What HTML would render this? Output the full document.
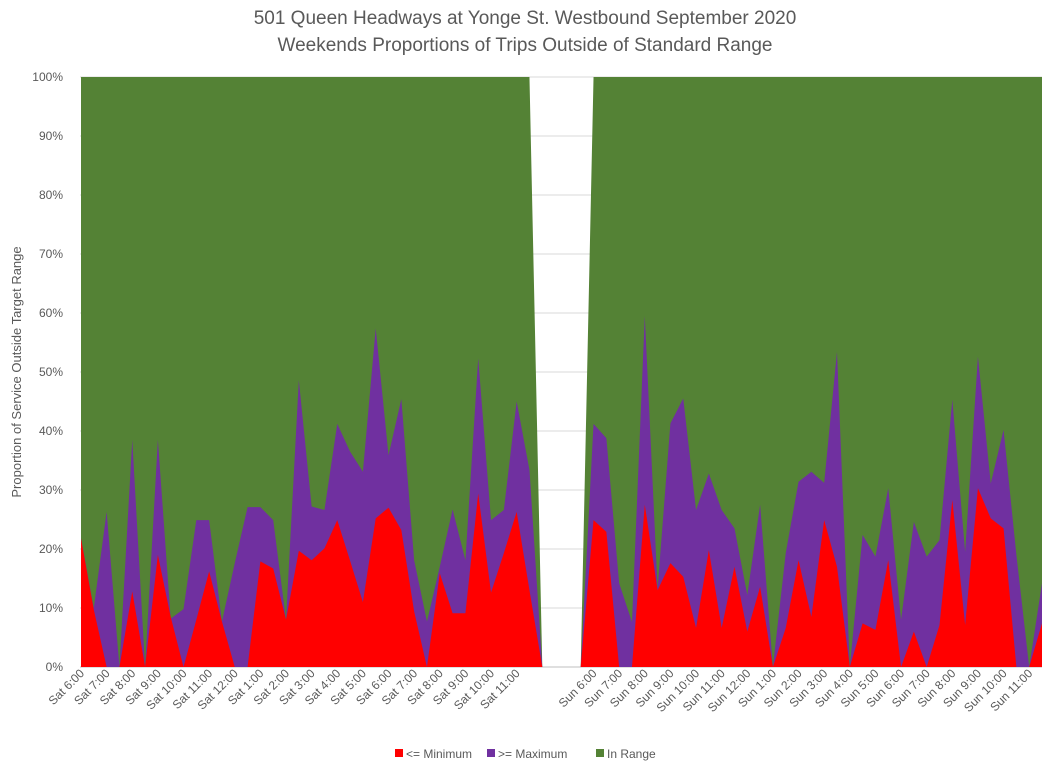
<!DOCTYPE html>
<html><head><meta charset="utf-8"><style>
body{margin:0;background:#fff;font-family:"Liberation Sans",sans-serif}
svg{display:block}
</style></head><body>
<svg id="c" width="1049" height="768">
<text x="525" y="24" text-anchor="middle" font-size="19" fill="#595959">501 Queen Headways at Yonge St. Westbound September 2020</text>
<text x="525" y="51" text-anchor="middle" font-size="19" fill="#595959">Weekends Proportions of Trips Outside of Standard Range</text>
<text transform="translate(21,372) rotate(-90)" text-anchor="middle" font-size="13" fill="#595959">Proportion of Service Outside Target Range</text>
<g id="grid"></g><g id="areas"></g><g id="ylab"></g><g id="xlab"></g>
<g>
<rect x="395" y="749" width="8" height="8" fill="#ff0000"/>
<text x="406" y="758" font-size="12" fill="#595959">&lt;=  Minimum</text>
<rect x="487" y="749" width="8" height="8" fill="#7030a0"/>
<text x="498" y="758" font-size="12" fill="#595959">&gt;= Maximum</text>
<rect x="596" y="749" width="8" height="8" fill="#548235"/>
<text x="607" y="758" font-size="12" fill="#595959">In Range</text>
</g>
</svg>
<script>
const categories=[];
["Sat","Sun"].forEach(function(d,di){for(let h=0;h<36;h++){const hr=6+Math.floor(h/2);const h12=hr>12?hr-12:hr;categories.push(d+" "+h12+":"+(h%2?"30":"00"));}
if(di===0){categories.push("Sat 12:00 AM","Sat 12:30 AM","Sat 1:00 AM","Sat 1:30 AM");}});
const minimumPct=[21.8,9.7,0,0,12.8,0,19,8.5,0,8,16.2,7.7,0,0,17.9,16.7,8,19.7,18.1,20.1,24.9,18,11,25.2,27,23.2,9.4,0,15.9,9.1,9.1,29.4,12.6,19.3,26.3,13,
0,0,0,0,
24.9,22.9,0,0,27.5,13,17.6,15.3,6.6,19.8,6.6,17,6,13.6,0,6.6,18.1,8.5,24.9,17,0,7.4,6.3,18.1,0,6,0,7.1,28.3,7.1,30.3,25.2,23.5,0,0,7.4];
const totalOutPct=[21.8,10,26.3,0,38.5,0,38.5,8.2,9.8,24.9,24.9,7.7,17.6,27.1,27.1,24.9,8,48.6,27.2,26.6,41.2,36.5,33.1,57.4,35.9,45.4,18.1,7.7,17,26.7,18.1,52.3,24.9,26.6,45,33.4,
0,0,0,0,
41.2,38.8,14.2,7.6,59.5,13.3,41.3,45.5,26.6,32.8,26.6,23.5,12.2,27.5,0,19.3,31.4,33.1,31.2,53.4,0,22.4,18.7,30.3,8,24.6,18.7,21.5,45.3,19.5,52.6,31.1,40.2,19,0,14.2];
const hasData=categories.map((c,i)=>!(i>=36&&i<=39));
const yTicks=[0,10,20,30,40,50,60,70,80,90,100];

const NS="http://www.w3.org/2000/svg";
const X0=81,X1=1042,Y0=667,Y1=77;
function xs(i){return X0+i*(X1-X0)/(categories.length-1);}
function ys(v){return Y0-(Y0-Y1)*v/100;}
function mk(t,a,p){const e=document.createElementNS(NS,t);for(const k in a)e.setAttribute(k,a[k]);p.appendChild(e);return e;}

const grid=document.getElementById('grid'),ylab=document.getElementById('ylab');
yTicks.forEach(function(t){
  const l=mk('line',{x1:X0-1,x2:X1,y1:ys(t),y2:ys(t),stroke:t===0?'#bfbfbf':'#d9d9d9','stroke-width':1},grid);
  
  
  const tx=mk('text',{x:63,y:ys(t)+4,'text-anchor':'end','font-size':12,fill:'#595959'},ylab);
  tx.textContent=t+'%';
  
  
});

const areas=document.getElementById('areas');
const redTop=minimumPct, purTop=totalOutPct, grnTop=categories.map((c,i)=>hasData[i]&&i!==36&&i!==39?100:0);
function area(top,bot,fill,name){
  let d='';
  for(let i=0;i<categories.length;i++)d+=(i?'L':'M')+xs(i)+','+ys(top[i]);
  for(let i=categories.length-1;i>=0;i--)d+='L'+xs(i)+','+ys(bot[i]);
  const p=mk('path',{d:d+'Z',fill:fill},areas);
  
  
}
const zero=categories.map(()=>0);
area(grnTop,zero,'#548235','area-in-range');
area(purTop,zero,'#7030a0','area-maximum');
area(redTop,zero,'#ff0000','area-minimum');

const xl=document.getElementById('xlab');
categories.forEach(function(c,i){
  if(i%2||!hasData[i])return;
  const x=xs(i);
  const t=mk('text',{transform:'translate('+(x+4)+',674) rotate(-45)','text-anchor':'end','font-size':12,fill:'#595959'},xl);
  t.textContent=c;
  
  
});
</script>
</body></html>
